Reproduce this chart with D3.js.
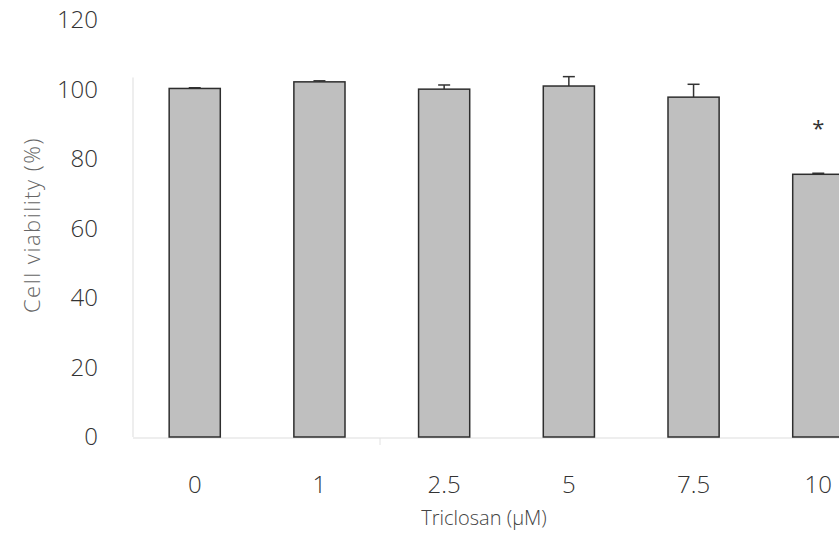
<!DOCTYPE html>
<html>
<head>
<meta charset="utf-8">
<script src="https://cdn.jsdelivr.net/npm/d3@7"></script>
<style>
  body { margin: 0; background: #fff; }
  svg { display: block; font-family: "Open Sans", Lato, sans-serif; font-weight: 300; }
</style>
</head>
<body>
<svg id="chart" width="839" height="533"></svg>
<script>
// data
var doses = ["0", "1", "2.5", "5", "7.5", "10"];
var viability = [100.3, 102.2, 100.1, 101.0, 97.8, 75.6];
var errors = [0.2, 0.3, 1.2, 2.7, 3.7, 0.3];
var significant = [false, false, false, false, false, true];
var yTicks = [0, 20, 40, 60, 80, 100, 120];

var svg = d3.select('#chart');
var x0 = 133;   // left edge of plot
var yBase = 437;

// band scale: centres at ~195 with a 124.5 px step
var xScale = d3.scaleBand()
  .domain(doses)
  .range([133, 133 + 124.5 * 6])
  .paddingInner(0.59)
  .paddingOuter(0.29);

var yScale = d3.scaleLinear()
  .domain([0, 120])
  .range([yBase, 20]);

// faint axis lines
svg.append('line')
  .attr('x1', x0).attr('x2', x0)
  .attr('y1', yScale(100) - 12).attr('y2', yBase)
  .style('stroke', '#eeeeee').style('stroke-width', 2);
svg.append('line')
  .attr('x1', x0).attr('x2', 839)
  .attr('y1', yBase + 1).attr('y2', yBase + 1)
  .style('stroke', '#eeeeee').style('stroke-width', 2);
svg.append('line')
  .attr('x1', 380).attr('x2', 380)
  .attr('y1', yBase + 1).attr('y2', yBase + 8)
  .style('stroke', '#e2e2e2').style('stroke-width', 1);

// y tick labels
svg.append('g')
  .selectAll('text')
  .data(yTicks)
  .enter()
  .append('text')
  .attr('x', 98)
  .attr('y', d => yScale(d))
  .attr('dy', '0.35em')
  .style('text-anchor', 'end')
  .style('font-size', '24px')
  .style('fill', '#333')
  .text(d => d);

// x tick labels
svg.append('g')
  .selectAll('text')
  .data(doses)
  .enter()
  .append('text')
  .attr('x', d => xScale(d) + xScale.bandwidth() / 2)
  .attr('y', 485)
  .attr('dy', '0.35em')
  .style('text-anchor', 'middle')
  .style('font-size', '24px')
  .style('fill', '#333')
  .text(d => d);

// error bars (drawn first so the bar outline sits on top)
var eb = svg.append('g');
doses.forEach(function(d, i) {
  var cx = xScale(d) + xScale.bandwidth() / 2;
  var top = yScale(viability[i] + errors[i]);
  eb.append('line')
    .attr('x1', cx).attr('x2', cx)
    .attr('y1', yScale(viability[i])).attr('y2', top)
    .style('stroke', '#333').style('stroke-width', 1.5);
  eb.append('line')
    .attr('x1', cx - 6).attr('x2', cx + 6)
    .attr('y1', top).attr('y2', top)
    .style('stroke', '#333').style('stroke-width', 1.5);
});

// bars
svg.append('g')
  .selectAll('rect')
  .data(doses)
  .enter()
  .append('rect')
  .attr('x', d => xScale(d))
  .attr('y', (d, i) => yScale(viability[i]))
  .attr('width', xScale.bandwidth())
  .attr('height', (d, i) => yBase - yScale(viability[i]))
  .style('fill', '#bfbfbf')
  .style('stroke', '#2e2e2e')
  .style('stroke-width', 1.5);

// significance marks
svg.append('g')
  .selectAll('text')
  .data(doses.filter((d, i) => significant[i]))
  .enter()
  .append('text')
  .attr('x', d => xScale(d) + xScale.bandwidth() / 2)
  .attr('y', d => yScale(viability[doses.indexOf(d)]) - 54)
  .attr('dy', '0.7em')
  .style('text-anchor', 'middle')
  .style('font-size', '22px')
  .style('font-weight', 400)
  .style('fill', '#333')
  .text('*');

// axis titles
svg.append('text')
  .attr('transform', 'translate(32,225) rotate(-90)')
  .attr('dy', '0.35em')
  .style('text-anchor', 'middle')
  .style('font-size', '22px')
  .style('letter-spacing', '1.5px')
  .style('fill', '#666')
  .text('Cell viability (%)');

svg.append('text')
  .attr('x', 484)
  .attr('y', 518)
  .attr('dy', '0.35em')
  .style('text-anchor', 'middle')
  .style('font-size', '20px')
  .style('fill', '#444')
  .text('Triclosan (μM)');
</script>
</body>
</html>
